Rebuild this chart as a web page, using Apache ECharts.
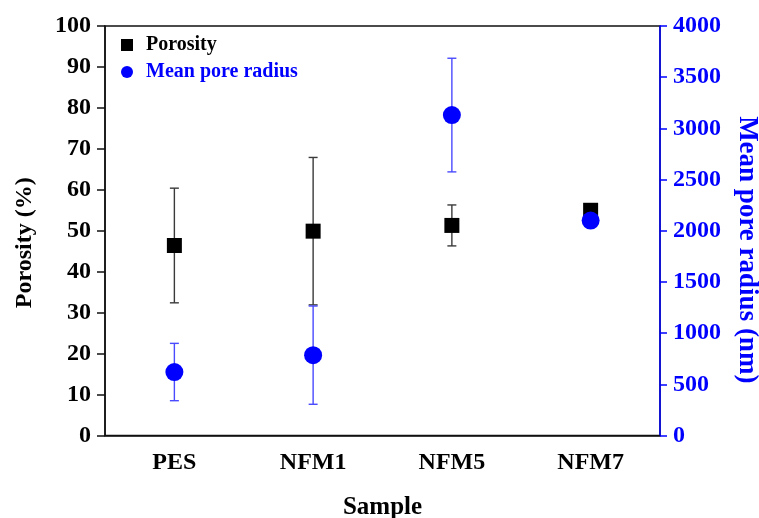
<!DOCTYPE html>
<html>
<head>
<meta charset="utf-8">
<script src="https://cdn.jsdelivr.net/npm/echarts@6/dist/echarts.min.js"></script>
<style>
  html, body { margin: 0; padding: 0; background: #fff; }
  #chart { width: 759px; height: 518px; }
</style>
</head>
<body>
<div id="chart"></div>
<script>
// Sample names
var samples = ['PES', 'NFM1', 'NFM5', 'NFM7'];
// Porosity (%) and its standard deviation
var porosity = [46.4, 49.9, 51.3, 55.0];
var porosityErr = [14.0, 18.0, 5.0, 0];
// Mean pore radius (nm) and its standard deviation
var poreRadius = [620, 785, 3130, 2100];
var poreRadiusErr = [280, 480, 555, 0];

var FONT = '"Liberation Serif", "Times New Roman", serif';
var BLUE = '#0000ff';

function errorData(values, errs) {
  return values.map(function (v, i) { return [i, v - errs[i], v + errs[i]]; });
}

function errorRenderer(color) {
  return function (params, api) {
    var x = api.value(0);
    var lo = api.coord([x, api.value(1)]);
    var hi = api.coord([x, api.value(2)]);
    if (Math.abs(hi[1] - lo[1]) < 1) return null;
    var w = 4.5;
    var style = { stroke: color, lineWidth: 1.4 };
    return {
      type: 'group',
      children: [
        { type: 'line', shape: { x1: lo[0], y1: lo[1], x2: hi[0], y2: hi[1] }, style: style },
        { type: 'line', shape: { x1: lo[0] - w, y1: lo[1], x2: lo[0] + w, y2: lo[1] }, style: style },
        { type: 'line', shape: { x1: hi[0] - w, y1: hi[1], x2: hi[0] + w, y2: hi[1] }, style: style }
      ]
    };
  };
}

var chart = echarts.init(document.getElementById('chart'), null, { renderer: 'canvas' });
chart.setOption({
  animation: false,
  backgroundColor: '#ffffff',
  grid: {
    left: 105, right: 99, top: 26, bottom: 82.5,
    containLabel: false,
    outerBoundsMode: 'none',
    show: true, borderColor: '#111', borderWidth: 1.5, backgroundColor: 'transparent'
  },
  legend: {
    orient: 'vertical',
    left: 121, top: 35,
    padding: 0,
    itemWidth: 12, itemHeight: 12,
    itemGap: 7,
    textStyle: { fontFamily: FONT, fontWeight: 'bold', fontSize: 20, padding: [0, 0, 0, 8] },
    data: [
      { name: 'Porosity', icon: 'rect', textStyle: { color: '#000' } },
      { name: 'Mean pore radius', icon: 'circle', textStyle: { color: BLUE } }
    ]
  },
  xAxis: {
    type: 'category',
    data: samples,
    boundaryGap: true,
    name: 'Sample',
    nameLocation: 'middle',
    nameGap: 60,
    nameTextStyle: { fontFamily: FONT, fontWeight: 'bold', fontSize: 25, color: '#000' },
    axisLine: { lineStyle: { color: '#111', width: 1.5 } },
    axisTick: { alignWithLabel: true, length: 8, lineStyle: { color: '#111', width: 1.5 } },
    axisLabel: { margin: 15, fontFamily: FONT, fontWeight: 'bold', fontSize: 24, color: '#000' },
    splitLine: { show: false }
  },
  yAxis: [
    {
      type: 'value', min: 0, max: 100, interval: 10, position: 'left',
      name: 'Porosity (%)', nameLocation: 'middle', nameGap: 68, nameRotate: 90,
      nameTextStyle: {
        fontFamily: FONT, fontWeight: 'bold', fontSize: 24, color: '#000',
        padding: [0, 24, 0, 0]
      },
      axisLine: { show: true, lineStyle: { color: '#111', width: 1.5 } },
      axisTick: { show: true, length: 8, lineStyle: { color: '#111', width: 1.5 } },
      axisLabel: { margin: 14, fontFamily: FONT, fontWeight: 'bold', fontSize: 24, color: '#000' },
      splitLine: { show: false }
    },
    {
      type: 'value', min: 0, max: 4000, interval: 500, position: 'right',
      name: 'Mean pore radius (nm)', nameLocation: 'middle', nameGap: 73, nameRotate: -90,
      nameTextStyle: {
        fontFamily: FONT, fontWeight: 'bold', fontSize: 27, color: BLUE,
        padding: [0, 0, 0, 38]
      },
      axisLine: { show: true, lineStyle: { color: BLUE, width: 1.5 } },
      axisTick: { show: true, length: 7, lineStyle: { color: BLUE, width: 1.5 } },
      axisLabel: {
        margin: 13, fontFamily: FONT, fontWeight: 'bold', fontSize: 24, color: BLUE,
        formatter: function (v) { return String(v); }
      },
      splitLine: { show: false }
    }
  ],
  series: [
    {
      name: 'Porosity err', type: 'custom', yAxisIndex: 0, z: 2, silent: true,
      renderItem: errorRenderer('#3a3a3a'),
      encode: { x: 0, y: [1, 2] },
      data: errorData(porosity, porosityErr)
    },
    {
      name: 'Radius err', type: 'custom', yAxisIndex: 1, z: 2, silent: true,
      renderItem: errorRenderer('#4a4aff'),
      encode: { x: 0, y: [1, 2] },
      data: errorData(poreRadius, poreRadiusErr)
    },
    {
      name: 'Porosity', type: 'scatter', yAxisIndex: 0, z: 3,
      symbol: 'rect', symbolSize: 15,
      itemStyle: { color: '#000', opacity: 1 },
      data: porosity
    },
    {
      name: 'Mean pore radius', type: 'scatter', yAxisIndex: 1, z: 4,
      symbol: 'circle', symbolSize: 18,
      itemStyle: { color: BLUE, opacity: 1 },
      data: poreRadius
    }
  ]
});
</script>
</body>
</html>
